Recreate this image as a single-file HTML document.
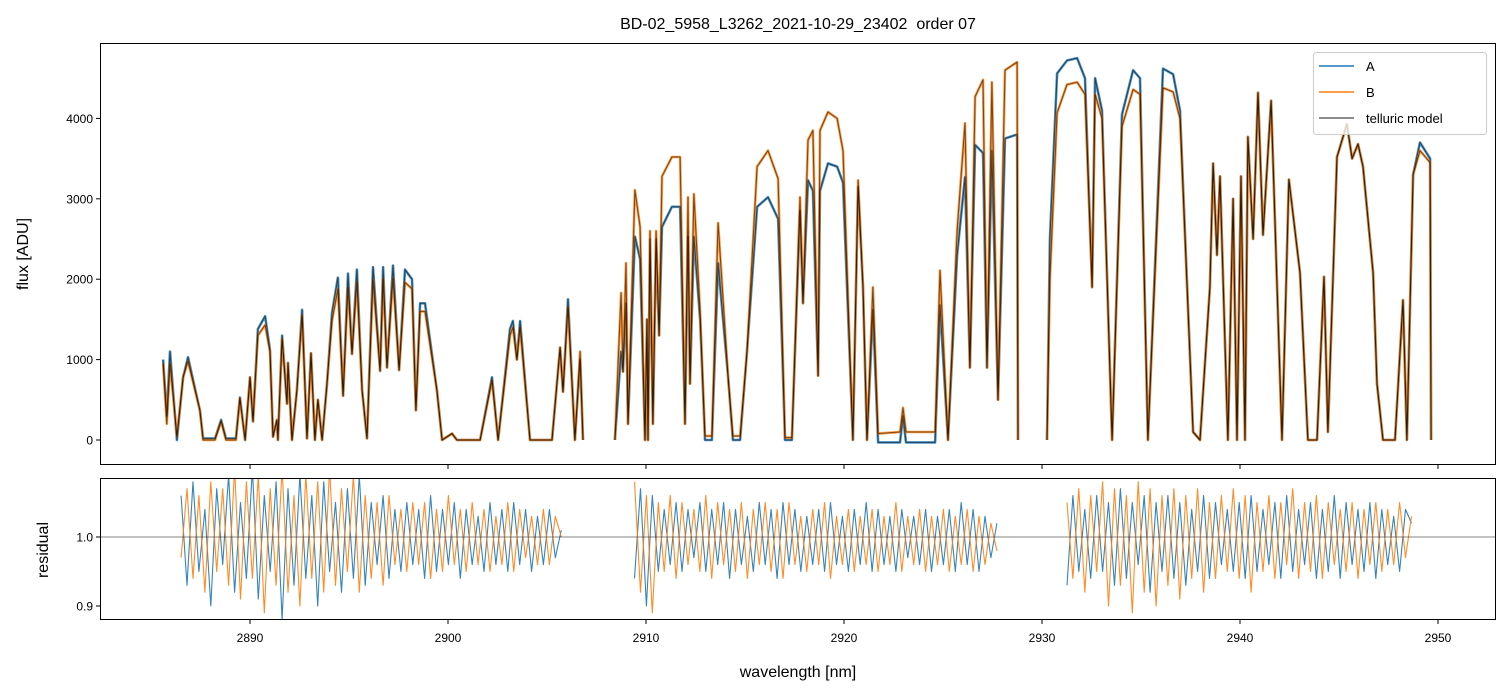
<!DOCTYPE html>
<html><head><meta charset="utf-8"><style>
html,body{margin:0;padding:0;background:#fff;}
svg{display:block;font-family:"Liberation Sans","DejaVu Sans",sans-serif;}
</style></head><body>
<svg id="chart" width="1510" height="696" viewBox="0 0 1510 696" xmlns="http://www.w3.org/2000/svg">
<defs>
<clipPath id="clipTop"><rect x="100" y="43" width="1396" height="422"/></clipPath>
<clipPath id="clipBot"><rect x="100" y="478" width="1396" height="142"/></clipPath>
</defs>
<text x="798" y="29" font-size="16" text-anchor="middle">BD-02_5958_L3262_2021-10-29_23402&#160; order 07</text>
<g id="topSeries" clip-path="url(#clipTop)"></g>
<g id="botSeries" clip-path="url(#clipBot)"></g>
<g id="axes"></g>
<rect x="100.5" y="43.5" width="1395" height="421" fill="none" stroke="#000" stroke-width="1"/>
<rect x="100.5" y="478.5" width="1395" height="141" fill="none" stroke="#000" stroke-width="1"/>
<text transform="translate(28,254) rotate(-90)" font-size="16" text-anchor="middle">flux [ADU]</text>
<text transform="translate(48,550) rotate(-90)" font-size="16" text-anchor="middle">residual</text>
<text x="798" y="677" font-size="16" text-anchor="middle">wavelength [nm]</text>
<g>
<rect x="1313.5" y="52.5" width="173" height="82" rx="3" fill="#fff" fill-opacity="0.8" stroke="#ccc"/>
<line x1="1319" y1="66" x2="1354" y2="66" stroke="#1f77b4" stroke-width="1.5"/>
<text x="1366" y="71" font-size="13">A</text>
<line x1="1319" y1="92" x2="1354" y2="92" stroke="#ff7f0e" stroke-width="1.5"/>
<text x="1366" y="97" font-size="13">B</text>
<line x1="1319" y1="118" x2="1354" y2="118" stroke="#000" stroke-opacity="0.6" stroke-width="1.5"/>
<text x="1366" y="123" font-size="13">telluric model</text>
</g>
</svg>
<script>
const wl1=[2885.61,2885.80,2885.96,2886.31,2886.62,2886.87,2887.47,2887.63,2888.23,2888.54,2888.79,2889.29,2889.49,2889.75,2890.00,2890.15,2890.40,2890.76,2891.01,2891.16,2891.36,2891.41,2891.62,2891.87,2891.92,2892.12,2892.37,2892.63,2892.88,2893.08,2893.28,2893.43,2893.64,2893.89,2894.14,2894.44,2894.70,2894.95,2895.15,2895.40,2895.66,2895.91,2896.21,2896.57,2896.72,2896.92,2897.22,2897.53,2897.83,2898.18,2898.38,2898.59,2898.84,2899.44,2899.70,2900.20,2900.45,2901.62,2902.22,2902.53,2903.13,2903.28,2903.48,2903.64,2904.14,2905.25,2905.66,2905.81,2906.06,2906.41,2906.67,2906.82];
const fluxA1=[1000,300,1100,0,780,1030,370,20,20,250,20,20,530,0,780,230,1380,1540,1120,40,250,0,1300,450,960,0,620,1620,20,1080,0,500,0,700,1580,2020,550,2070,1070,2120,620,20,2150,860,2150,900,2170,870,2120,2000,370,1700,1700,620,0,80,0,0,780,0,1380,1480,1000,1480,0,0,1150,600,1750,0,1000,0];
const fluxB1=[950,200,950,50,780,980,370,0,0,230,0,0,520,0,780,230,1300,1430,1100,40,250,0,1260,450,950,0,620,1550,20,1080,0,500,0,700,1480,1880,550,1900,1070,1960,620,20,1990,860,2000,900,2010,870,1960,1880,370,1600,1600,620,0,80,0,0,740,0,1300,1400,1000,1400,0,0,1150,600,1650,0,1100,0];
const wl2=[2908.43,2908.74,2908.84,2908.99,2909.09,2909.44,2909.70,2909.95,2910.05,2910.10,2910.20,2910.35,2910.51,2910.66,2910.81,2911.31,2911.72,2911.97,2912.12,2912.22,2912.42,2912.73,2912.98,2913.33,2913.64,2914.14,2914.39,2914.75,2915.10,2915.61,2916.16,2916.67,2917.02,2917.37,2917.78,2917.93,2918.18,2918.43,2918.69,2918.79,2919.19,2919.65,2919.95,2920.45,2920.71,2920.96,2921.16,2921.46,2921.72,2922.83,2922.98,2923.13,2924.60,2924.85,2925.25,2925.71,2926.11,2926.36,2926.62,2927.02,2927.22,2927.47,2927.78,2928.13,2928.74,2928.79];
const fluxA2=[0,1100,850,1700,200,2530,2250,0,1500,0,2500,200,2500,1300,2650,2900,2900,200,2530,700,2530,1500,0,0,2200,800,0,0,1100,2900,3020,2750,0,0,2850,1700,3230,3100,800,3100,3440,3400,3200,0,3150,1900,0,1620,-30,-30,300,-30,-30,1680,0,2300,3270,900,3670,3570,900,3600,500,3750,3800,0];
const fluxB2=[0,1830,850,2200,200,3110,2650,0,1500,0,2600,200,2600,1300,3280,3520,3520,200,3020,700,3060,1600,50,50,2700,800,50,50,1100,3400,3600,3250,30,30,3020,1700,3730,3850,800,3850,4080,4000,3600,0,3230,1900,0,1900,80,100,400,100,100,2110,0,2600,3940,900,4270,4480,900,4450,500,4600,4700,0];
const wl3=[2930.25,2930.40,2930.76,2931.26,2931.77,2932.17,2932.53,2932.68,2933.03,2933.54,2934.04,2934.60,2934.95,2935.35,2936.11,2936.62,2936.97,2937.63,2937.98,2938.48,2938.64,2938.84,2938.99,2939.39,2939.65,2939.85,2940.05,2940.25,2940.40,2940.66,2940.91,2941.16,2941.57,2942.12,2942.47,2943.03,2943.43,2943.89,2944.24,2944.44,2944.90,2945.40,2945.66,2945.96,2946.21,2946.72,2946.92,2947.22,2947.83,2948.23,2948.43,2948.74,2949.09,2949.60,2949.65];
const fluxA3=[0,2500,4560,4720,4750,4500,1900,4500,4100,0,4050,4600,4500,0,4620,4550,4100,100,0,1900,3440,2300,3280,0,3000,0,3280,0,3770,2500,4320,2550,4220,0,3240,2080,0,0,2030,100,3520,3930,3500,3680,3400,2080,700,0,0,1740,0,3300,3700,3500,0];
const fluxB3=[0,2000,4070,4420,4450,4300,1900,4300,4000,0,3900,4360,4300,0,4380,4330,4000,100,0,1900,3440,2300,3280,0,3000,0,3280,0,3770,2500,4320,2550,4220,0,3240,2080,0,0,2030,100,3520,3930,3500,3680,3400,2080,700,0,0,1740,0,3300,3600,3450,0];
const residStart=[2886.52,2909.42,2931.26];
const residStep=0.3;
const residA1=[1.06,0.93,1.08,0.95,1.04,0.90,1.07,0.96,1.09,0.92,1.05,0.94,1.10,0.91,1.06,0.95,1.08,0.88,1.07,0.93,1.09,0.94,1.06,0.90,1.08,0.95,1.05,0.92,1.07,0.94,1.09,0.93,1.05,0.96,1.06,0.94,1.04,0.95,1.05,0.96,1.04,0.94,1.06,0.95,1.04,0.96,1.05,0.94,1.04,0.96,1.03,0.95,1.05,0.96,1.04,0.95,1.05,0.96,1.04,0.95,1.03,0.96,1.04,0.97,1.01];
const residB1=[0.97,1.07,0.94,1.06,0.92,1.08,0.95,1.07,0.93,1.10,0.91,1.08,0.94,1.09,0.89,1.07,0.93,1.10,0.92,1.06,0.90,1.09,0.94,1.08,0.92,1.10,0.93,1.07,0.95,1.09,0.92,1.06,0.94,1.05,0.93,1.06,0.96,1.04,0.95,1.05,0.96,1.05,0.94,1.04,0.95,1.06,0.96,1.04,0.95,1.05,0.96,1.04,0.95,1.03,0.96,1.05,0.95,1.04,0.97,1.03,0.96,1.04,0.96,1.03,1.00];
const residA2=[0.94,1.07,0.90,1.06,0.95,1.04,0.96,1.05,0.95,1.04,0.97,1.05,0.95,1.04,0.96,1.05,0.94,1.04,0.96,1.03,0.95,1.05,0.96,1.04,0.94,1.05,0.96,1.04,0.95,1.03,0.96,1.04,0.95,1.05,0.96,1.03,0.95,1.04,0.96,1.05,0.95,1.04,0.96,1.03,0.95,1.04,0.97,1.03,0.96,1.04,0.95,1.03,0.96,1.04,0.95,1.05,0.96,1.04,0.95,1.03,0.97,1.02];
const residB2=[1.08,0.92,1.06,0.89,1.05,0.95,1.06,0.94,1.05,0.96,1.04,0.95,1.06,0.94,1.05,0.96,1.04,0.95,1.05,0.94,1.04,0.96,1.05,0.95,1.04,0.94,1.05,0.96,1.03,0.95,1.04,0.96,1.05,0.94,1.03,0.96,1.04,0.95,1.03,0.96,1.04,0.95,1.03,0.96,1.05,0.95,1.03,0.96,1.04,0.95,1.03,0.96,1.04,0.95,1.03,0.96,1.04,0.95,1.03,0.96,1.02,0.98];
const residA3=[0.93,1.06,0.95,1.04,0.94,1.06,0.95,1.05,0.93,1.07,0.94,1.05,0.96,1.06,0.92,1.05,0.95,1.06,0.94,1.05,0.93,1.04,0.95,1.06,0.94,1.05,0.96,1.04,0.95,1.05,0.94,1.06,0.95,1.04,0.96,1.05,0.94,1.06,0.95,1.04,0.96,1.05,0.94,1.04,0.95,1.06,0.94,1.05,0.96,1.04,0.95,1.05,0.94,1.04,0.96,1.03,0.95,1.04,1.02];
const residB3=[1.05,0.94,1.07,0.92,1.06,0.95,1.08,0.90,1.07,0.93,1.06,0.89,1.08,0.92,1.07,0.90,1.06,0.93,1.07,0.91,1.06,0.94,1.07,0.92,1.05,0.94,1.06,0.95,1.07,0.94,1.06,0.92,1.05,0.95,1.06,0.94,1.05,0.96,1.07,0.94,1.05,0.95,1.06,0.94,1.05,0.96,1.04,0.95,1.05,0.94,1.04,0.96,1.05,0.95,1.04,0.96,1.05,0.97,1.03];
const xTicks=[2890,2900,2910,2920,2930,2940,2950];
const yTicksTop=[0,1000,2000,3000,4000];
const yTicksBot=[0.9,1.0];

const NS="http://www.w3.org/2000/svg";
const xs=w=>100+(w-2882.424)*19.8;
const yT=f=>440-f*0.0804;
const yB=r=>537-(r-1)*690;
function mk(tag,attrs,parent){const e=document.createElementNS(NS,tag);for(const k in attrs)e.setAttribute(k,attrs[k]);parent.appendChild(e);return e;}
const gTop=document.getElementById('topSeries'),gBot=document.getElementById('botSeries'),gAx=document.getElementById('axes');
function poly(wls,vals,yf,color,sw,op,parent,name){
  const pts=wls.map((w,i)=>xs(w).toFixed(1)+','+yf(vals[i]).toFixed(1)).join(' ');
  const p=mk('polyline',{points:pts,fill:'none',stroke:color,'stroke-width':sw,'stroke-opacity':op,'stroke-linejoin':'round'},parent);
  
  
}
const segs=[[wl1,fluxA1,fluxB1],[wl2,fluxA2,fluxB2],[wl3,fluxA3,fluxB3]];
segs.forEach((s,i)=>poly(s[0],s[1],yT,'#1f77b4',2.6,0.8,gTop,'series-a-seg'+(i+1)));
segs.forEach((s,i)=>poly(s[0],s[2],yT,'#ff7f0e',2.6,0.8,gTop,'series-b-seg'+(i+1)));
segs.forEach((s,i)=>{poly(s[0],s[1],yT,'#000',1,0.55,gTop,'model-a-seg'+(i+1));poly(s[0],s[2],yT,'#000',1,0.55,gTop,'model-b-seg'+(i+1));});
const rA=[residA1,residA2,residA3],rB=[residB1,residB2,residB3];
function rw(k,arr){return arr.map((_,i)=>residStart[k]+i*residStep);}
rA.forEach((a,k)=>poly(rw(k,a),a,yB,'#1f77b4',1.1,0.9,gBot,'residual-a-seg'+(k+1)));
rB.forEach((a,k)=>poly(rw(k,a),a,yB,'#ff7f0e',1.1,0.9,gBot,'residual-b-seg'+(k+1)));
const ref=mk('line',{x1:100,x2:1496,y1:yB(1),y2:yB(1),stroke:'#333','stroke-width':0.7,'stroke-opacity':0.8},gBot);


xTicks.forEach(t=>{
  const x=xs(t);
  const a=mk('line',{x1:x,x2:x,y1:465,y2:469,stroke:'#000'},gAx);
  
  
  const b=mk('line',{x1:x,x2:x,y1:620,y2:624,stroke:'#000'},gAx);
  
  
  const l=mk('text',{x:x,y:642,'font-size':12,'text-anchor':'middle'},gAx);l.textContent=t;
  
  
});
yTicksTop.forEach(t=>{
  const y=yT(t);
  const a=mk('line',{x1:96,x2:100,y1:y,y2:y,stroke:'#000'},gAx);
  
  
  const l=mk('text',{x:93,y:y+4.5,'font-size':12,'text-anchor':'end'},gAx);l.textContent=t;
  
  
});
yTicksBot.forEach(t=>{
  const y=yB(t);
  const a=mk('line',{x1:96,x2:100,y1:y,y2:y,stroke:'#000'},gAx);
  
  
  const l=mk('text',{x:93,y:y+4.5,'font-size':12,'text-anchor':'end'},gAx);l.textContent=t.toFixed(1);
  
  
});
</script>
</body></html>
